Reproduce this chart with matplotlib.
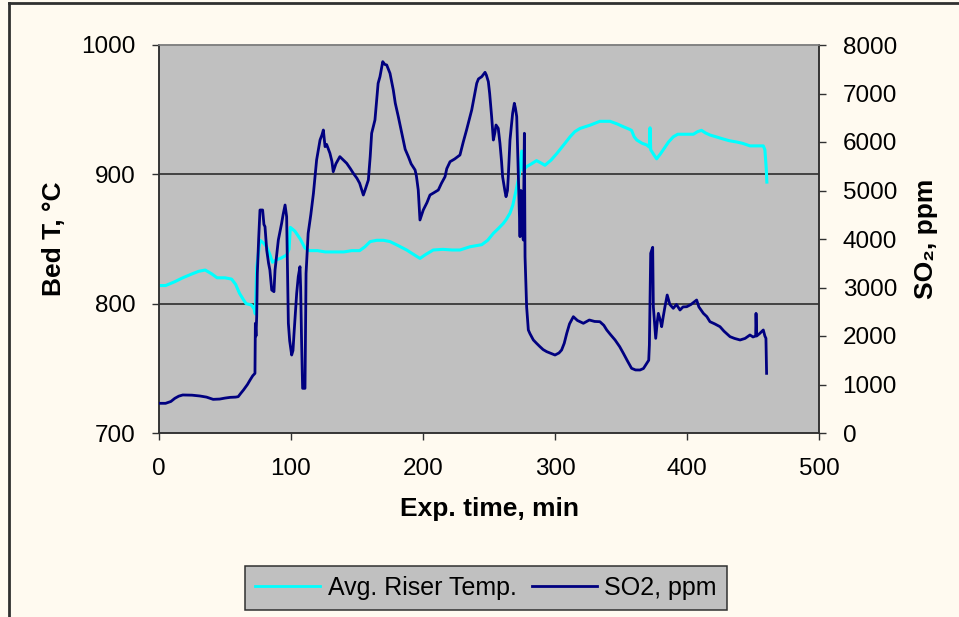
import matplotlib
matplotlib.use("Agg")
import matplotlib.pyplot as plt
from matplotlib.lines import Line2D

plt.rcParams['font.family'] = ['Liberation Sans', 'DejaVu Sans']

# ---- data ----
temp_time = [0, 5, 12, 18, 25, 30, 35, 40, 44, 50, 55, 58, 61, 64, 66, 70, 72, 73, 74, 76.5, 79, 81.6,
             84, 86, 89, 92, 96.7, 98.5, 99.5, 103, 107, 110.6, 114, 120, 126, 132, 140, 146, 152, 156,
             160, 165, 170, 175, 181, 187.6, 193, 197.7, 202, 207.8, 215, 222, 228, 235.6, 244.5, 249,
             253.3, 257, 260.8, 263, 265.9, 268, 271, 273, 274.8, 276, 278.5, 282, 286, 289, 292.4, 297,
             301.3, 306, 311.4, 315, 319, 326.5, 334, 341.7, 347, 351.8, 356, 358, 360, 362, 366, 369.5,
             371.5, 372, 372.5, 375, 377, 380, 382, 386, 389.6, 393, 397, 401, 404.8, 408, 411, 414,
             417.4, 422, 427.5, 432, 437.6, 442, 447.7, 452, 457.8, 459, 460, 460.5]
temp_vals = [814, 814, 817, 820, 823, 825, 826, 823, 820, 820, 819, 815, 808, 803, 800, 799, 796, 792, 828,
             849, 847, 844, 838, 832, 834, 835, 837.6, 842, 859, 856, 850, 843, 841, 841, 840, 840, 840,
             841, 841, 844, 848, 849, 849, 848, 845, 841.5, 838, 835, 838, 841.5, 842, 841.5, 841.5, 844,
             845.6, 849, 854.4, 858, 862, 865, 870, 876, 890, 900, 918, 903, 906, 908, 910.6, 909, 907,
             911, 916, 922, 929, 933, 935.5, 938, 941, 941, 939, 936.8, 935, 934, 929, 926.5, 924, 922.7,
             921, 936, 919, 915, 912, 916, 919, 925, 929, 931, 931, 931, 931, 933, 934, 932, 930.4, 929,
             927.3, 926, 925, 924, 922, 922, 922, 919, 905, 894]

so2_time = [0, 5, 9, 12, 15, 18, 25, 31, 36, 41, 46, 50, 54, 58, 60, 62, 64, 67, 69, 71, 72.7, 73, 73.5,
            74, 74.5, 75.5, 76.5, 78.5, 79.5, 80.3, 81.6, 83, 84, 85.4, 87.1, 87.9, 90.4, 92.9, 94, 95.5,
            96.7, 97.3, 98, 99, 100.5, 101.5, 102.3, 104.3, 105.5, 106.8, 107.3, 108, 108.8, 110.6, 111.4,
            113, 115, 117, 119.4, 122, 123.5, 124.5, 125.8, 127, 129.5, 131, 132, 134, 137, 140, 142.2,
            145, 147.2, 150, 152, 154.8, 156, 158.6, 160, 161.1, 163.6, 165, 166, 167.4, 169.5, 171,
            172.5, 175, 177.5, 179, 181.3, 183, 185, 186.5, 188.9, 191, 194, 195, 196.4, 197.7, 199,
            200.2, 203, 205.3, 208, 211.6, 214, 216.7, 218, 220.5, 224, 228, 230.5, 233, 236.9, 240.7,
            242, 244.5, 247, 248, 249.5, 250.5, 252, 253.3, 254.5, 255.3, 257, 258.3, 259.5, 260.3, 262,
            262.9, 264, 264.6, 265.9, 267.9, 269.2, 270, 271, 272.2, 273.5, 274.2, 275, 276, 276.8, 277.3,
            278.5, 279.8, 281, 283.6, 286, 288.6, 291, 293.7, 297, 300, 303, 305, 307, 308.9, 311, 313.9,
            317, 321.5, 326, 330, 334, 337, 339.2, 342, 345.5, 349, 351.8, 355, 358, 361, 364.4, 367,
            369.5, 371, 371.5, 372.5, 374, 374.5, 376.3, 377.5, 378.3, 380, 380.8, 382, 383.3, 385, 387,
            389.6, 392, 394.7, 397, 399.8, 403, 407.3, 409, 412.4, 415, 417.4, 421, 425, 428, 432.6, 436,
            440.2, 444, 447.7, 450, 452, 452.3, 452.8, 455, 457.8, 459, 459.8, 460.3]
so2_vals = [612, 612, 650, 715, 760, 784, 780, 763, 740, 694, 700, 720, 735, 740, 749, 820, 887, 1000, 1093,
            1180, 1230, 2262, 2000, 2400, 3292, 4000, 4598, 4598, 4300, 4254, 3773, 3500, 3361, 2948, 2914,
            3361, 3979, 4323, 4500, 4701, 4460, 3500, 2262, 1900, 1608, 1700, 2055, 2880, 3223, 3429, 3000,
            1918, 921, 921, 3292, 4117, 4500, 4942, 5629, 6041, 6150, 6247, 5904, 5950, 5767, 5600, 5388,
            5550, 5698, 5620, 5561, 5450, 5355, 5250, 5150, 4907, 5000, 5217, 5700, 6180, 6454, 6901, 7210,
            7347, 7657, 7600, 7588, 7416, 7072, 6800, 6522, 6300, 6041, 5850, 5698, 5550, 5423, 5300, 5010,
            4392, 4500, 4598, 4750, 4907, 4950, 5010, 5150, 5285, 5450, 5594, 5650, 5732, 6000, 6248, 6660,
            7210, 7300, 7347, 7437, 7380, 7244, 7000, 6522, 6041, 6200, 6351, 6282, 5973, 5600, 5285, 5000,
            4873, 5000, 5285, 6041, 6591, 6798, 6700, 6522, 5355, 4048, 5000, 4200, 3979, 6180, 3635, 2604,
            2124, 2050, 1918, 1850, 1780, 1720, 1677, 1640, 1608, 1650, 1711, 1850, 2055, 2250, 2398, 2320,
            2262, 2330, 2300, 2295, 2220, 2124, 2030, 1918, 1780, 1643, 1480, 1334, 1300, 1299, 1330, 1437,
            1500, 1814, 3705, 3829, 2604, 1952, 2300, 2467, 2300, 2192, 2400, 2604, 2845, 2650, 2571, 2650,
            2536, 2600, 2604, 2650, 2742, 2600, 2467, 2400, 2295, 2250, 2192, 2100, 1986, 1950, 1918, 1950,
            2021, 1980, 2000, 2467, 2000, 2050, 2124, 2000, 1952, 1230]

x_ticks = [0, 100, 200, 300, 400, 500]
temp_ticks = [700, 800, 900, 1000]
so2_ticks = [0, 1000, 2000, 3000, 4000, 5000, 6000, 7000, 8000]

# ---- figure ----
W, H = 959, 617
fig = plt.figure(figsize=(W / 100, H / 100), dpi=100)
bg = '#FFFAF0'
fig.patch.set_facecolor(bg)

left, right, top, bottom = 159, 819, 45, 433
ax = fig.add_axes([left / W, 1 - bottom / H, (right - left) / W, (bottom - top) / H])
ax.set_facecolor('#C0C0C0')
ax.set_xlim(0, 500)
ax.set_ylim(700, 1000)
ax.set_xticks(x_ticks)
ax.set_yticks(temp_ticks)
for y in [800, 900]:
    ax.axhline(y, color='#202020', lw=1.1, zorder=1)

ax.plot(temp_time, temp_vals, color='#00FFFF', lw=2.2, zorder=2)

ax2 = ax.twinx()
ax2.set_ylim(0, 8000)
ax2.set_yticks(so2_ticks)
ax2.plot(so2_time, so2_vals, color='#000080', lw=2.0, zorder=3)

for a in (ax, ax2):
    for s in a.spines.values():
        s.set_color('#303030')
        s.set_linewidth(1.1)
    a.spines['top'].set_color('#808080')
    a.tick_params(direction='out', length=5, width=1, color='#303030', labelsize=17.5, pad=12)
ax.tick_params(axis='x', pad=13)

ax.set_xlabel('Exp. time, min', fontsize=19, fontweight='bold', labelpad=12)
ax.set_ylabel('Bed T, \u00b0C', fontsize=19, fontweight='bold', labelpad=11)
ax2.set_ylabel('SO\u2082, ppm', fontsize=19, fontweight='bold', labelpad=12, rotation=90)

# legend
handles = [Line2D([], [], color='#00FFFF', lw=2), Line2D([], [], color='#000080', lw=2)]
leg = fig.legend(handles, ['Avg. Riser Temp.', 'SO2, ppm'], loc='center',
                 bbox_to_anchor=(486 / W, 1 - 588 / H), ncol=2, fontsize=18,
                 frameon=True, fancybox=False, facecolor='#C0C0C0', edgecolor='#303030',
                 framealpha=1, handlelength=2.6, handletextpad=0.3, columnspacing=0.6,
                 borderpad=0.4)
leg.get_frame().set_linewidth(1.1)

# outer frame (top and left edges visible in reference)
fig.add_artist(Line2D([9 / W, 9 / W], [0, 1 - 3 / H], transform=fig.transFigure, color='#303030', lw=2))
fig.add_artist(Line2D([9 / W, 1], [1 - 3 / H, 1 - 3 / H], transform=fig.transFigure, color='#303030', lw=2))

fig.savefig('out.png', dpi=100, facecolor=bg)
